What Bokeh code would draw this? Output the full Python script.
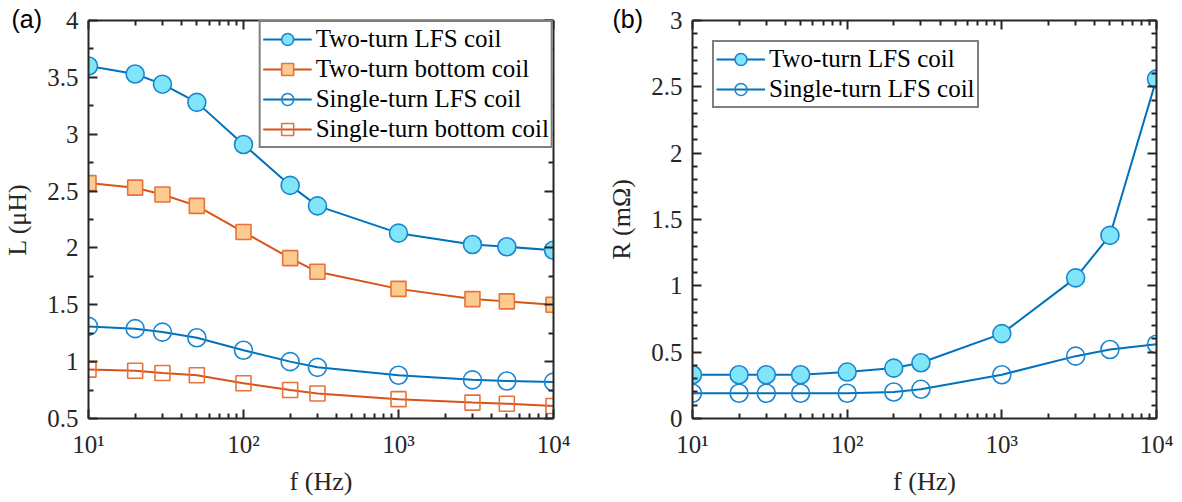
from bokeh.plotting import figure
from bokeh.layouts import row
from bokeh.models import (FixedTicker, LinearAxis, LogAxis, Legend, LegendItem, Title,
                          Range1d, CustomJSTickFormatter, NumeralTickFormatter)
from bokeh.embed import file_html
from bokeh.resources import INLINE

# ---------------- data ----------------
freq = [10, 20, 30, 50, 100, 200, 300, 1000, 3000, 5000, 10000]

L_two_lfs = [3.60, 3.53, 3.44, 3.28, 2.91, 2.55, 2.37, 2.13, 2.03, 2.01, 1.98]
L_two_bottom = [2.57, 2.53, 2.47, 2.37, 2.14, 1.91, 1.79, 1.64, 1.55, 1.53, 1.50]
L_single_lfs = [1.31, 1.29, 1.26, 1.21, 1.10, 1.00, 0.95, 0.88, 0.84, 0.83, 0.82]
L_single_bottom = [0.93, 0.92, 0.90, 0.88, 0.81, 0.75, 0.72, 0.67, 0.64, 0.63, 0.61]

R_two_lfs = [0.33, 0.33, 0.33, 0.33, 0.35, 0.38, 0.42, 0.64, 1.06, 1.38, 2.56]
R_single_lfs = [0.19, 0.19, 0.19, 0.19, 0.19, 0.20, 0.22, 0.33, 0.47, 0.52, 0.56]

x_major = [10, 100, 1000, 10000]
x_minor = [m * d for d in (10, 100, 1000) for m in range(2, 10)]

labels_a = ["Two-turn LFS coil", "Two-turn bottom coil", "Single-turn LFS coil", "Single-turn bottom coil"]
labels_b = ["Two-turn LFS coil", "Single-turn LFS coil"]

# ---------------- style ----------------
SERIF = "Times New Roman"
SANS = "Liberation Sans"
AX = "#262626"
BLUE = "#0072BD"
ORANGE = "#D95319"
CYAN_FILL = "#80E5F8"
CYAN_EDGE = "#1A86D0"
ORANGE_FILL = "#FDCB90"
ORANGE_EDGE = "#E8733A"

LOG_FMT = CustomJSTickFormatter(code="""
const s = {1:'\u00b9', 2:'\u00b2', 3:'\u00b3', 4:'\u2074'};
return '10' + s[Math.round(Math.log10(tick))];
""")


def style_axis(ax, show_labels=True):
    ax.axis_line_width = 2
    ax.axis_line_color = AX
    ax.major_tick_in = 9
    ax.major_tick_out = 0
    ax.minor_tick_in = 5
    ax.minor_tick_out = 0
    ax.major_tick_line_width = 2
    ax.minor_tick_line_width = 2
    ax.major_tick_line_color = AX
    ax.minor_tick_line_color = AX
    ax.major_label_text_font = SERIF
    ax.major_label_text_font_size = "25px"
    ax.major_label_text_color = AX
    ax.axis_label_text_font = SERIF
    ax.axis_label_text_font_size = "26px"
    ax.axis_label_text_font_style = "normal"
    ax.axis_label_text_color = AX
    if not show_labels:
        ax.formatter = CustomJSTickFormatter(code="return '';")
        ax.major_label_standoff = 0


def make_fig(width, yr, yticks, yminor, ylabel, border_left, border_right, tag, tag_offset):
    p = figure(width=width, height=500, x_axis_type="log",
               x_range=Range1d(10, 10000), y_range=Range1d(*yr),
               output_backend="svg", toolbar_location=None,
               min_border_left=border_left, min_border_right=border_right,
               min_border_top=20, min_border_bottom=82)
    p.title = Title(text=tag, align="left", offset=tag_offset, standoff=-24,
                    text_font=SANS, text_font_size="25px", text_font_style="normal",
                    text_color="black")
    p.grid.visible = False
    p.outline_line_color = None
    p.background_fill_color = "white"
    p.border_fill_color = "white"

    xt = FixedTicker(ticks=x_major, minor_ticks=x_minor)
    yt = FixedTicker(ticks=yticks, minor_ticks=yminor)

    xa = p.xaxis[0]
    xa.ticker = xt
    xa.formatter = LOG_FMT
    xa.axis_label = "f (Hz)"
    style_axis(xa)
    xa.major_label_standoff = 12
    xa.axis_label_standoff = 6

    ya = p.yaxis[0]
    ya.ticker = yt
    ya.formatter = NumeralTickFormatter(format="0.[0]")
    ya.axis_label = ylabel
    style_axis(ya)
    ya.major_label_standoff = 10
    ya.axis_label_standoff = 12

    top = LogAxis(ticker=xt)
    style_axis(top, show_labels=False)
    p.add_layout(top, "above")
    right = LinearAxis(ticker=yt)
    style_axis(right, show_labels=False)
    p.add_layout(right, "right")
    return p


def series(p, y, line_color, marker, size, fill, edge, filled):
    ln = p.line(freq, y, line_color=line_color, line_width=2)
    sc = p.scatter(freq, y, marker=marker, size=size, line_color=edge, line_width=1.6,
                   fill_color=fill, fill_alpha=1.0 if filled else 0.0)
    return [ln, sc]


def style_legend(lg):
    lg.border_line_color = "black"
    lg.border_line_width = 2
    lg.background_fill_color = "white"
    lg.background_fill_alpha = 1.0
    lg.label_text_font = SERIF
    lg.label_text_font_size = "25px"
    lg.label_text_color = "black"
    lg.glyph_width = 49
    lg.glyph_height = 30
    lg.label_standoff = 4
    lg.spacing = 0
    lg.padding = 2


# ---------------- panel (a) ----------------
pa = make_fig(604, (0.5, 4), [0.5, 1, 1.5, 2, 2.5, 3, 3.5, 4],
              [0.75, 1.25, 1.75, 2.25, 2.75, 3.25, 3.75], "L (\u03bcH)", 85, 51,
              "(a)", -77)

ra1 = series(pa, L_two_lfs, BLUE, "circle", 18, CYAN_FILL, CYAN_EDGE, True)
ra2 = series(pa, L_two_bottom, ORANGE, "square", 15, ORANGE_FILL, ORANGE_EDGE, True)
ra3 = series(pa, L_single_lfs, BLUE, "circle", 18, None, CYAN_EDGE, False)
ra4 = series(pa, L_single_bottom, ORANGE, "square", 15, None, ORANGE_EDGE, False)

leg_a = Legend(items=[LegendItem(label=labels_a[0], renderers=ra1),
                      LegendItem(label=labels_a[1], renderers=ra2),
                      LegendItem(label=labels_a[2], renderers=ra3),
                      LegendItem(label=labels_a[3], renderers=ra4)],
               location="top_right", margin=0)
style_legend(leg_a)
pa.add_layout(leg_a)

# ---------------- panel (b) ----------------
pb = make_fig(576, (0, 3), [0, 0.5, 1, 1.5, 2, 2.5, 3],
              [round(0.1 * i, 1) for i in range(1, 30) if i % 5 != 0], "R (m\u03a9)", 81, 24,
              "(b)", -80)

rb1 = series(pb, R_two_lfs, BLUE, "circle", 18, CYAN_FILL, CYAN_EDGE, True)
rb2 = series(pb, R_single_lfs, BLUE, "circle", 18, None, CYAN_EDGE, False)

leg_b = Legend(items=[LegendItem(label=labels_b[0], renderers=rb1),
                      LegendItem(label=labels_b[1], renderers=rb2)],
               location="top_left", margin=20)
style_legend(leg_b)
pb.add_layout(leg_b)

layout = row(pa, pb)
open("out.html", "w").write(file_html(layout, INLINE))
